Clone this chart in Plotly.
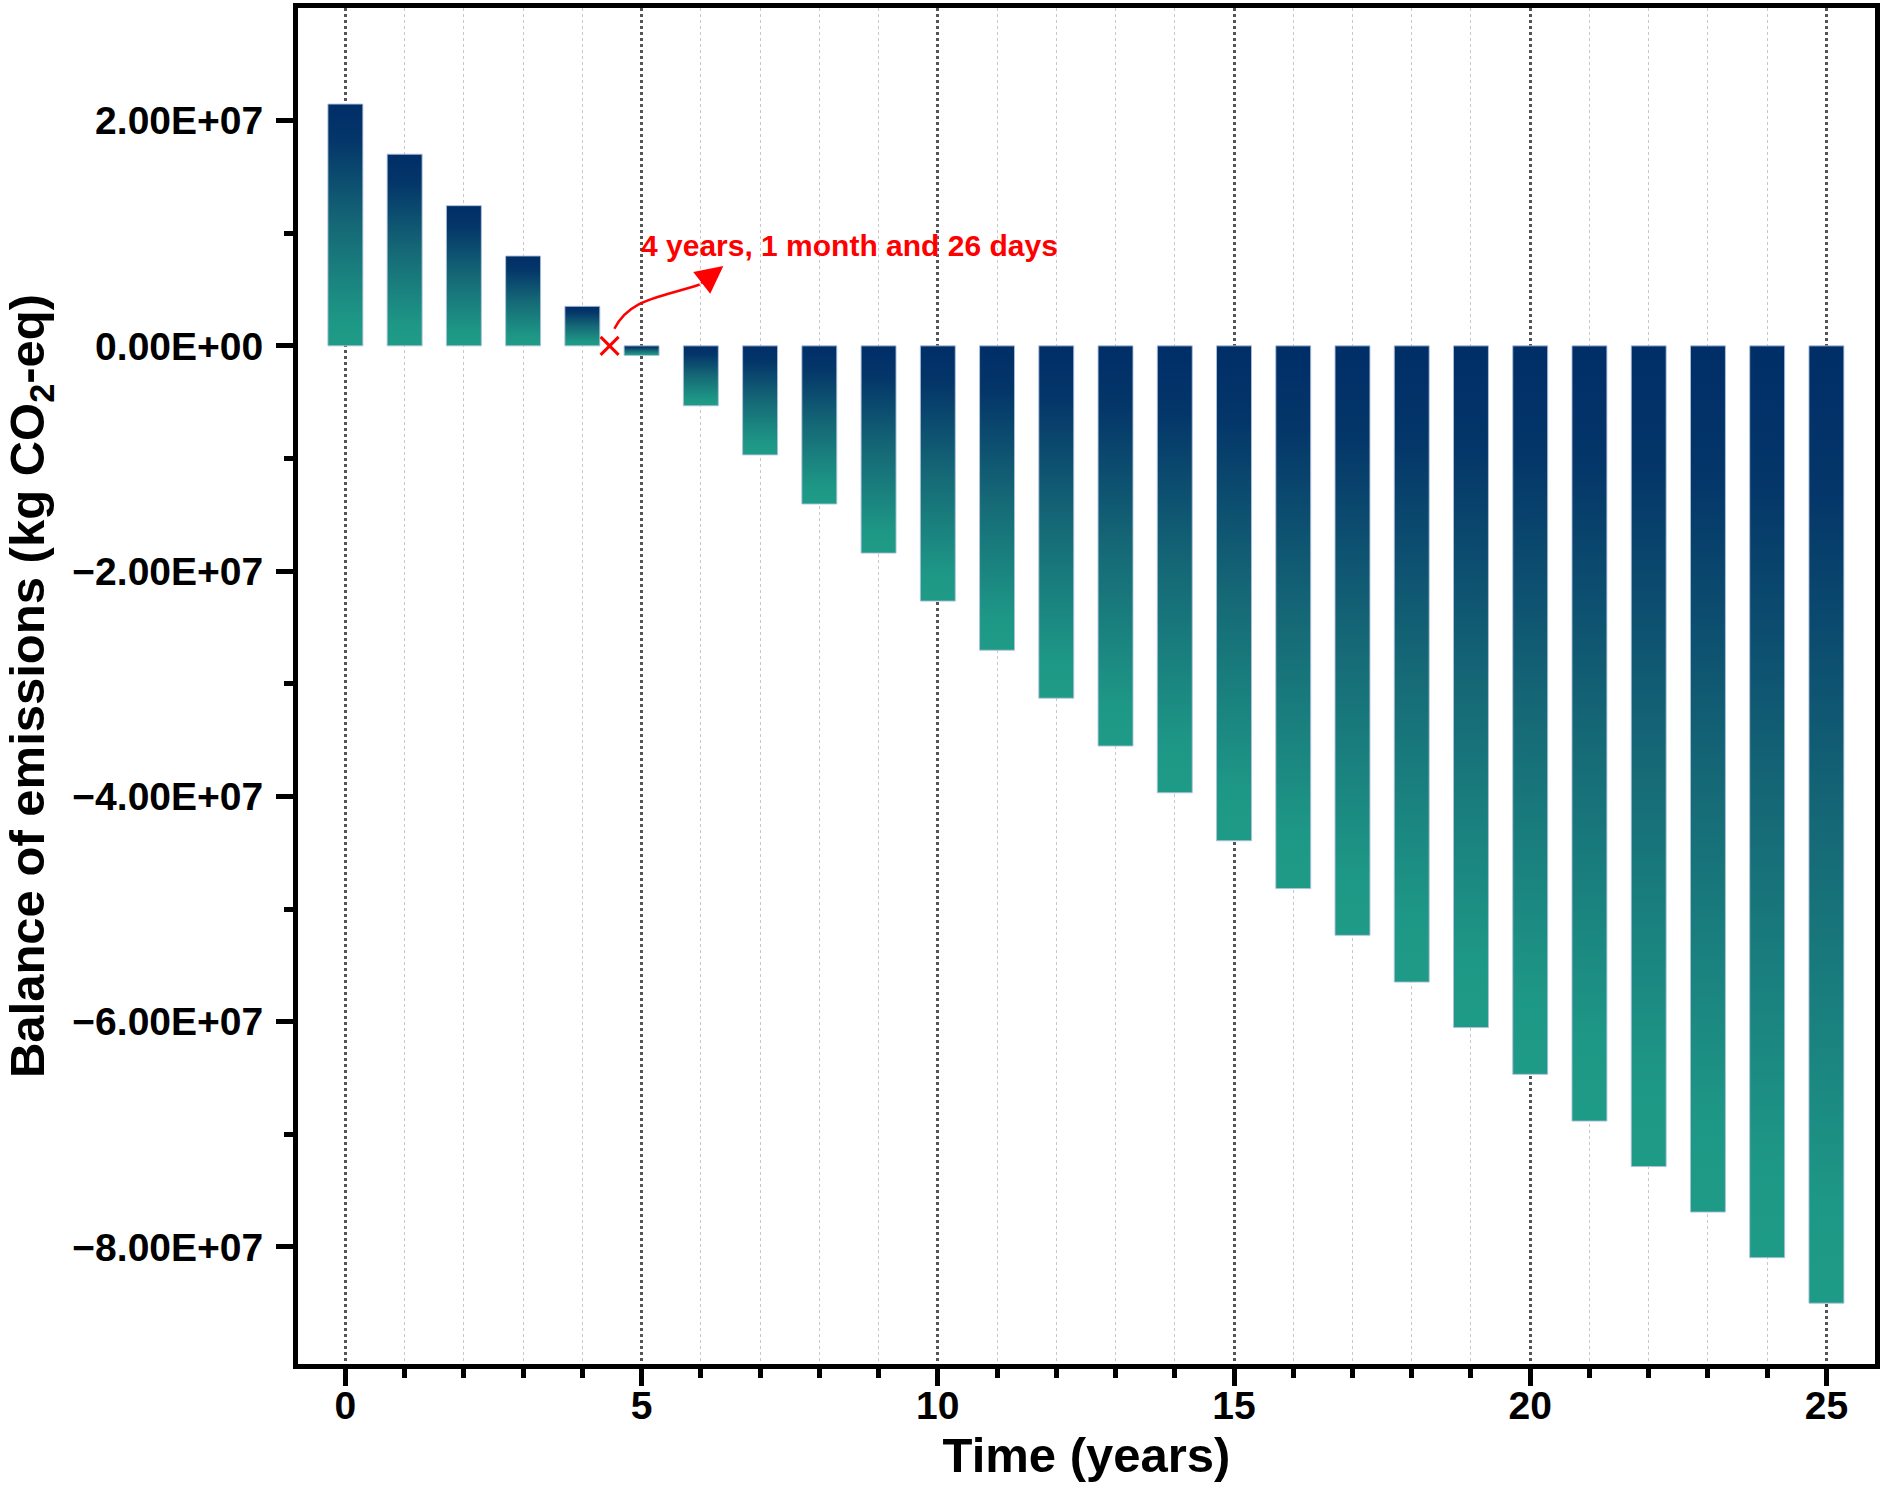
import plotly.graph_objects as go

# ---------------- data ----------------
years = list(range(0, 26))
balance = [2.147e7, 1.702e7, 1.245e7, 0.798e7, 0.351e7, -0.085e7,
           -0.532e7, -0.968e7, -1.404e7, -1.840e7, -2.266e7, -2.702e7,
           -3.128e7, -3.553e7, -3.968e7, -4.394e7, -4.819e7, -5.234e7,
           -5.649e7, -6.053e7, -6.468e7, -6.883e7, -7.287e7, -7.691e7,
           -8.096e7, -8.500e7]

y_tick_vals = [2e7, 0, -2e7, -4e7, -6e7, -8e7]
y_tick_text = ["2.00E+07", "0.00E+00", "\u22122.00E+07", "\u22124.00E+07",
               "\u22126.00E+07", "\u22128.00E+07"]
y_minor_vals = [1e7, -1e7, -3e7, -5e7, -7e7]
x_tick_vals = [0, 5, 10, 15, 20, 25]
x_minor_vals = [v for v in years if v % 5 != 0]

payback_x = 4.46          # break-even point marker
payback_label = "4 years, 1 month and 26 days"
label_pos = (8.51, 8.95e6)
arrow_path = [(4.54, 1.52e6), (4.80, 4.2e6), (5.30, 4.25e6), (5.98, 5.45e6)]
arrow_tip = (6.38, 7.1e6)

BAR_W = 0.59
NAVY = "rgb(0,46,104)"
TEAL = "rgb(30,155,135)"
gradient = [[0.0, TEAL], [0.1, "rgb(30,152,134)"], [0.5, "rgb(21,104,118)"],
            [0.85, "rgb(4,54,105)"], [1.0, NAVY]]

FONT = "Liberation Sans, Arial, sans-serif"

fig = go.Figure()

for xv, val in zip(years, balance):
    x0, x1 = xv - BAR_W / 2, xv + BAR_W / 2
    fig.add_trace(go.Scatter(
        x=[x0, x1, x1, x0, x0], y=[0, 0, val, val, 0],
        mode="lines", fill="toself",
        line=dict(color="rgba(175,192,220,0.9)", width=1),
        fillgradient=dict(type="vertical", colorscale=gradient),
        hoverinfo="skip", showlegend=False))

# break-even marker
fig.add_trace(go.Scatter(
    x=[payback_x], y=[0], mode="markers",
    marker=dict(symbol="x-thin", size=18, line=dict(color="red", width=3)),
    showlegend=False, hoverinfo="skip"))

# curved arrow
(p0, p1, p2, p3) = arrow_path
fig.add_shape(type="path",
              path=f"M {p0[0]},{p0[1]} C {p1[0]},{p1[1]} {p2[0]},{p2[1]} {p3[0]},{p3[1]}",
              line=dict(color="red", width=2.5), xref="x", yref="y")
fig.add_annotation(x=arrow_tip[0], y=arrow_tip[1], ax=p3[0], ay=p3[1],
                   xref="x", yref="y", axref="x", ayref="y", text="",
                   showarrow=True, arrowhead=2, arrowsize=2.2, arrowwidth=2.5,
                   arrowcolor="red")
fig.add_annotation(x=label_pos[0], y=label_pos[1], text=payback_label,
                   showarrow=False, xref="x", yref="y",
                   font=dict(family=FONT, size=30, color="red", weight="bold"))

fig.update_layout(
    width=1883, height=1492,
    margin=dict(l=298, r=3, t=6, b=128),
    plot_bgcolor="white", paper_bgcolor="white",
    font=dict(family=FONT, color="black", weight="bold"),
    xaxis=dict(
        range=[-0.80, 25.82], tickmode="array", tickvals=x_tick_vals,
        ticks="outside", ticklen=17, tickwidth=5, tickcolor="black",
        ticklabelstandoff=-14,
        showline=True, linecolor="black", linewidth=5, mirror=True,
        zeroline=False,
        showgrid=True, gridcolor="#555555", griddash="dot", gridwidth=2.5,
        tickfont=dict(family=FONT, size=39, weight="bold"),
        title=dict(text="Time (years)", standoff=13,
                   font=dict(family=FONT, size=49, weight="bold")),
        minor=dict(tickmode="array", tickvals=x_minor_vals, ticks="outside",
                   ticklen=9, tickwidth=5, tickcolor="black", showgrid=True,
                   gridcolor="#c8c8c8", griddash="dot", gridwidth=1),
    ),
    yaxis=dict(
        range=[-9.04e7, 3.0e7], tickmode="array", tickvals=y_tick_vals,
        ticktext=y_tick_text,
        ticks="outside", ticklen=17, tickwidth=5, tickcolor="black",
        ticklabelstandoff=5,
        showline=True, linecolor="black", linewidth=5, mirror=True,
        zeroline=False, showgrid=False,
        tickfont=dict(family=FONT, size=39, weight="bold"),
        title=dict(text="Balance of emissions (kg CO<sub>2</sub>-eq)", standoff=29,
                   font=dict(family=FONT, size=49, weight="bold")),
        minor=dict(tickmode="array", tickvals=y_minor_vals, ticks="outside",
                   ticklen=9, tickwidth=5, tickcolor="black", showgrid=False),
    ),
)

fig.write_html("out.html", config={"displayModeBar": False},
               post_script="document.body.style.margin='0px';")
